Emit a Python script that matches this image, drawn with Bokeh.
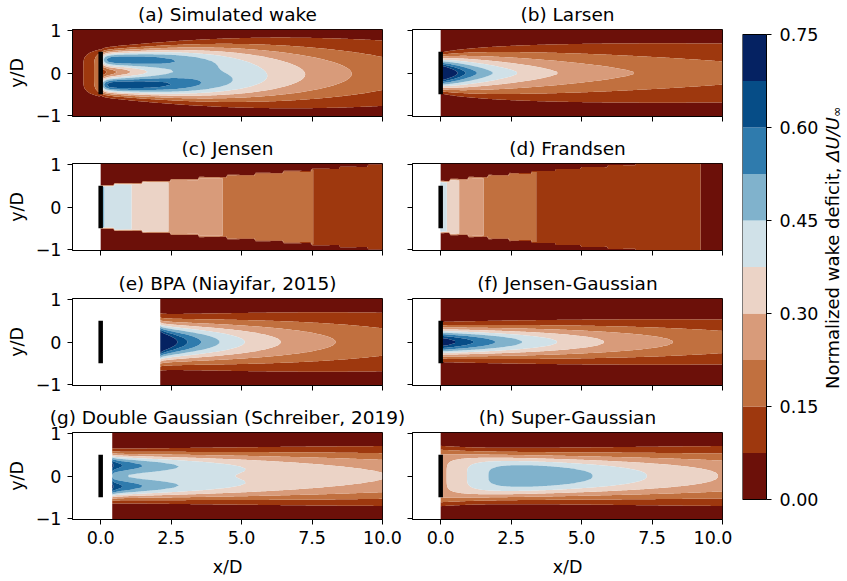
import math
import numpy as np
from bokeh.plotting import figure
from bokeh.layouts import row, column
from bokeh.models import FixedTicker
from bokeh.core.properties import value
from bokeh.embed import file_html
from bokeh.resources import INLINE

# ---------------------------------------------------------------- inputs
CT = 0.71          # thrust coefficient
TI = 0.063         # ambient turbulence intensity
ROTOR_D = 1.0      # rotor diameter (all lengths in D)
TURBINE_X = 0.0

levels = [0.0, 0.075, 0.15, 0.225, 0.30, 0.375, 0.45, 0.525, 0.60, 0.675, 0.75]
palette = ["#6c1009", "#9e380e", "#c1703f", "#d89b7a", "#ebd3c6",
           "#d0e1e8", "#80b2cc", "#2f7bad", "#064d87", "#052262"]

x_ticks = [0, 2.5, 5, 7.5, 10]
x_tick_labels = ["0.0", "2.5", "5.0", "7.5", "10.0"]
y_ticks = [-1, 0, 1]
y_tick_labels = ["\u22121", "0", "1"]
cbar_ticks = [0.0, 0.15, 0.30, 0.45, 0.60, 0.75]
cbar_tick_labels = ["0.00", "0.15", "0.30", "0.45", "0.60", "0.75"]
cbar_title = ["Normalized wake deficit, ", "\u0394U/U", "\u221e"]

titles = ["(a) Simulated wake", "(b) Larsen", "(c) Jensen", "(d) Frandsen",
          "(e) BPA (Niayifar, 2015)", "(f) Jensen-Gaussian",
          "(g) Double Gaussian (Schreiber, 2019)", "(h) Super-Gaussian"]

# simulated (LES) wake description
sim_lobe_y = [0.31, -0.28]
sim_lobe_amp = [0.60, 0.68]
sim_sigma0, sim_sigma_growth = 0.14, 0.032
sim_ramp_len = 0.15
sim_decay_len, sim_decay_pow = 5.3, 2.4
sim_ind_amp, sim_ind_len, sim_ind_halfwidth = 0.23, 0.55, 0.55

# engineering-model constants
jensen_k = 0.05
frandsen_alpha = 0.40
jg_k, jg_peak, jg_sigma0, jg_sigma_growth = 0.05, 1.625, 0.22, 0.017
dg_r0, dg_growth, dg_x_start = 0.26, 0.012, 0.41
sg_as, sg_bs, sg_cs = 0.17, 0.005, 0.2
sg_af, sg_bf, sg_cf = 3.11, -0.68, 2.41

X_MIN, X_MAX, DX = -1.0, 10.0, 0.05
Y_HALF, NY = 1.025, 42

R = ROTOR_D / 2
A_ROT = math.pi * ROTOR_D ** 2 / 4
BETA = 0.5 * (1 + math.sqrt(1 - CT)) / math.sqrt(1 - CT)
ys = np.linspace(-Y_HALF, Y_HALF, NY)


def grid(x0):
    n = int(round((X_MAX - x0) / DX)) + 1
    xs = np.linspace(x0, X_MAX, n)
    X, Y = np.meshgrid(xs, ys)
    return xs, X, Y


# ---------------------------------------------------------------- wake models
def simulated():
    xs, X, Y = grid(X_MIN)
    xp = np.maximum(X, 0.0)
    sig = sim_sigma0 + sim_sigma_growth * xp
    g = (1 - 0.5 * np.exp(-xp / sim_ramp_len)) / (1 + (xp / sim_decay_len) ** sim_decay_pow)
    wake = sum(a * g * np.exp(-(Y - yc) ** 2 / (2 * sig ** 2))
               for a, yc in zip(sim_lobe_amp, sim_lobe_y))
    ind = sim_ind_amp * np.exp(X / sim_ind_len) * np.exp(-(np.abs(Y) / sim_ind_halfwidth) ** 6)
    return xs, np.where(X >= 0, wake, ind)


def larsen():
    xs, X, Y = grid(0.0)
    r_nb = max(1.08 * ROTOR_D, 1.08 * ROTOR_D + 21.7 * ROTOR_D * (TI - 0.05))
    r95 = r_nb
    d_eff = ROTOR_D * math.sqrt(BETA)
    x0 = 9.5 * ROTOR_D / ((2 * r95 / d_eff) ** 3 - 1)
    c1 = (d_eff / 2) ** 2.5 * (105 / (2 * math.pi)) ** -0.5 * (CT * A_ROT * x0) ** (-5 / 6)
    xx = X + x0
    k3 = 3 * c1 ** 2
    rw = (35 / (2 * math.pi)) ** 0.2 * k3 ** 0.2 * (CT * A_ROT * xx) ** (1 / 3)
    d = (1 / 9) * (CT * A_ROT * xx ** -2) ** (1 / 3) * (
        np.abs(Y) ** 1.5 * (k3 * CT * A_ROT * xx) ** -0.5
        - (35 / (2 * math.pi)) ** 0.3 * k3 ** -0.2) ** 2
    return xs, np.where(np.abs(Y) < rw, d, 0.0)


def jensen():
    xs, X, Y = grid(0.0)
    rw = R + jensen_k * X
    d = (1 - math.sqrt(1 - CT)) / (1 + jensen_k * X / R) ** 2
    return xs, np.where(np.abs(Y) <= rw, d, 0.0)


def frandsen():
    xs, X, Y = grid(0.0)
    dw = ROTOR_D * np.sqrt(BETA + frandsen_alpha * X)
    d = 0.5 * (1 - np.sqrt(np.clip(1 - 2 * CT * (ROTOR_D / dw) ** 2, 0, None)))
    return xs, np.where(np.abs(Y) <= dw / 2, d, 0.0)


def bpa():
    kstar = 0.3837 * TI + 0.003678
    eps = 0.2 * math.sqrt(BETA)
    x_start = (math.sqrt(CT / 8) - eps) / kstar + 1e-6
    xs, X, Y = grid(x_start)
    sig = kstar * X + eps
    c = 1 - np.sqrt(np.clip(1 - CT / (8 * sig ** 2), 0, None))
    return xs, c * np.exp(-Y ** 2 / (2 * sig ** 2))


def jensen_gaussian():
    xs, X, Y = grid(0.0)
    c = (1 - math.sqrt(1 - CT)) * jg_peak / (1 + jg_k * X / R) ** 2
    sig = jg_sigma0 + jg_sigma_growth * X
    return xs, c * np.exp(-Y ** 2 / (2 * sig ** 2))


def double_gaussian():
    r = np.linspace(0, 4, 4001)
    k_mom = math.pi * CT / 8

    def shape(rr, s):
        return 0.5 * (np.exp(-(rr - dg_r0) ** 2 / (2 * s ** 2)) +
                      np.exp(-(rr + dg_r0) ** 2 / (2 * s ** 2)))

    def integrals(s):
        g = shape(r, s)
        return (np.trapezoid(g * 2 * np.pi * r, r),
                np.trapezoid(g ** 2 * 2 * np.pi * r, r))

    def disc(s):
        i1, i2 = integrals(s)
        return i1 ** 2 - 4 * i2 * k_mom

    lo, hi = 0.05, 0.8
    for _ in range(60):
        mid = 0.5 * (lo + hi)
        if disc(mid) >= 0:
            hi = mid
        else:
            lo = mid
    eps = hi - dg_growth * dg_x_start + 1e-6
    xs, X, Y = grid(dg_x_start)
    z = np.zeros_like(X)
    for j, xv in enumerate(xs):
        s = dg_growth * xv + eps
        i1, i2 = integrals(s)
        c = (i1 - math.sqrt(max(i1 ** 2 - 4 * i2 * k_mom, 0))) / (2 * i2)
        z[:, j] = c * shape(ys, s)
    return xs, z


def super_gaussian():
    xs, X, Y = grid(0.0)
    sig = (sg_as * TI + sg_bs) * xs + sg_cs * math.sqrt(BETA)
    n = sg_af * np.exp(sg_bf * xs) + sg_cf
    gam = np.array([math.gamma(v) for v in 2 / n])
    inner = 2 ** (4 / n - 2) - n * CT / (16 * gam * sig ** (4 / n))
    c = 2 ** (2 / n - 1) - np.sqrt(np.clip(inner, 0, None))
    z = c[None, :] * np.exp(-np.abs(Y) ** n[None, :] / (2 * sig[None, :] ** 2))
    return xs, z


fields = [simulated(), larsen(), jensen(), frandsen(),
          bpa(), jensen_gaussian(), double_gaussian(), super_gaussian()]

# ---------------------------------------------------------------- figures
FONT = "DejaVu Sans"
TICK_PX = "17.5px"
FRAME_W, FRAME_H = 310, 87
ROW_H = [134, 135, 134, 178]


def style_axis(ax, ticks, labels, show):
    ax.ticker = FixedTicker(ticks=ticks)
    ax.major_label_overrides = {t: (lab if show else "") for t, lab in zip(ticks, labels)}
    ax.major_tick_out = 5
    ax.major_tick_in = 0
    ax.minor_tick_line_color = None
    ax.axis_line_color = "black"
    ax.major_tick_line_color = "black"
    ax.major_label_text_font = FONT
    ax.major_label_text_font_size = TICK_PX
    ax.major_label_text_color = "black"
    ax.axis_label_text_font = FONT
    ax.axis_label_text_font_size = TICK_PX
    ax.axis_label_text_font_style = "normal"
    ax.axis_label_text_color = "black"


def panel(i):
    col, r = i % 2, i // 2
    left = 72 if col == 0 else 6
    right = 24 if col == 0 else 10
    top = 29
    bottom = ROW_H[r] - top - FRAME_H
    p = figure(width=left + FRAME_W + right, height=ROW_H[r],
               x_range=(X_MIN, X_MAX), y_range=(-Y_HALF, Y_HALF),
               min_border_left=left, min_border_right=right,
               min_border_top=top, min_border_bottom=bottom,
               output_backend="svg", toolbar_location=None, title=titles[i])
    p.title.align = "center"
    p.title.vertical_align = "top"
    p.title.text_font = FONT
    p.title.text_font_size = "18.5px"
    p.title.text_font_style = "normal"
    p.title.text_color = "black"
    p.title.standoff = 5
    p.grid.visible = False
    p.outline_line_color = "black"
    p.outline_line_alpha = 1.0
    p.background_fill_color = "white"
    p.border_fill_color = "white"

    xs, z = fields[i]
    z = np.clip(np.nan_to_num(z, nan=0.0), 1e-4, levels[-1] - 1e-4)
    p.contour(x=xs, y=ys, z=z, levels=levels, fill_color=palette)
    p.segment(x0=[TURBINE_X], y0=[-R], x1=[TURBINE_X], y1=[R],
              line_color="black", line_width=4.5)

    style_axis(p.xaxis[0], x_ticks, x_tick_labels, r == 3)
    style_axis(p.yaxis[0], y_ticks, y_tick_labels, col == 0)
    p.xaxis.major_label_standoff = 6
    p.yaxis.major_label_standoff = 6 if col == 0 else 0
    if r == 3:
        p.xaxis.axis_label = "x/D"
        p.xaxis.axis_label_standoff = 10
    if col == 0:
        p.yaxis.axis_label = "y/D"
        p.yaxis.axis_label_standoff = 6
    return p


panels = [panel(i) for i in range(8)]

# ---------------------------------------------------------------- colour bar
# The frame spans x 742..847 px and y 20..520 px of the page; x is counted in
# pixels from the bar's left edge, y is in deficit units (0 at 499 px, 0.75 at 34 px).
CB_TOP_PX, CB_BOT_PX = 34, 499
FR_TOP_PX, FR_BOT_PX = 20, 520
PX = (levels[-1] - levels[0]) / (CB_BOT_PX - CB_TOP_PX)
cb = figure(width=115, height=581, x_range=(0, 105),
            y_range=(levels[0] - (FR_BOT_PX - CB_BOT_PX) * PX,
                     levels[-1] + (CB_TOP_PX - FR_TOP_PX) * PX),
            min_border_left=10, min_border_right=0,
            min_border_top=FR_TOP_PX, min_border_bottom=581 - FR_BOT_PX,
            x_axis_location=None, y_axis_location=None,
            output_backend="svg", toolbar_location=None)
cb.grid.visible = False
cb.outline_line_color = None
BAR_W = 24
cb.quad(left=0, right=BAR_W, bottom=levels[:-1], top=levels[1:],
        fill_color=palette, line_color=None)
cb.quad(left=0, right=BAR_W, bottom=levels[0], top=levels[-1],
        fill_color=None, line_color="black", line_width=1)
cb.segment(x0=BAR_W, x1=BAR_W + 5, y0=cbar_ticks, y1=cbar_ticks,
           line_color="black", line_width=1)
cb.text(x=BAR_W + 13, y=cbar_ticks, text=cbar_tick_labels,
        text_align="left", text_baseline="middle", text_font=value(FONT),
        text_font_size=TICK_PX, text_color="black")

# rotated colour-bar title: plain part ends where the italic part begins
lab_x = 90
label_center_px = 248
w_main, w_ital = 228.3, 44.7
joint_px = label_center_px + (w_main + w_ital + 10) / 2 - w_main
joint = levels[0] + (CB_BOT_PX - joint_px) * PX
common = dict(angle=math.pi / 2, text_baseline="middle",
              text_font=value(FONT), text_color="black")
cb.text(x=[lab_x], y=[joint], text=[cbar_title[0]], text_align="right",
        text_font_size="18px", **common)
cb.text(x=[lab_x], y=[joint], text=[cbar_title[1]], text_align="left",
        text_font_size="18px", text_font_style="italic", **common)
cb.text(x=[lab_x + 4], y=[joint + w_ital * PX], text=[cbar_title[2]],
        text_align="left", text_font_size="12.6px", **common)

layout = row(column(*panels[0::2]), column(*panels[1::2]), cb)

open("out.html", "w").write(file_html(layout, INLINE))
